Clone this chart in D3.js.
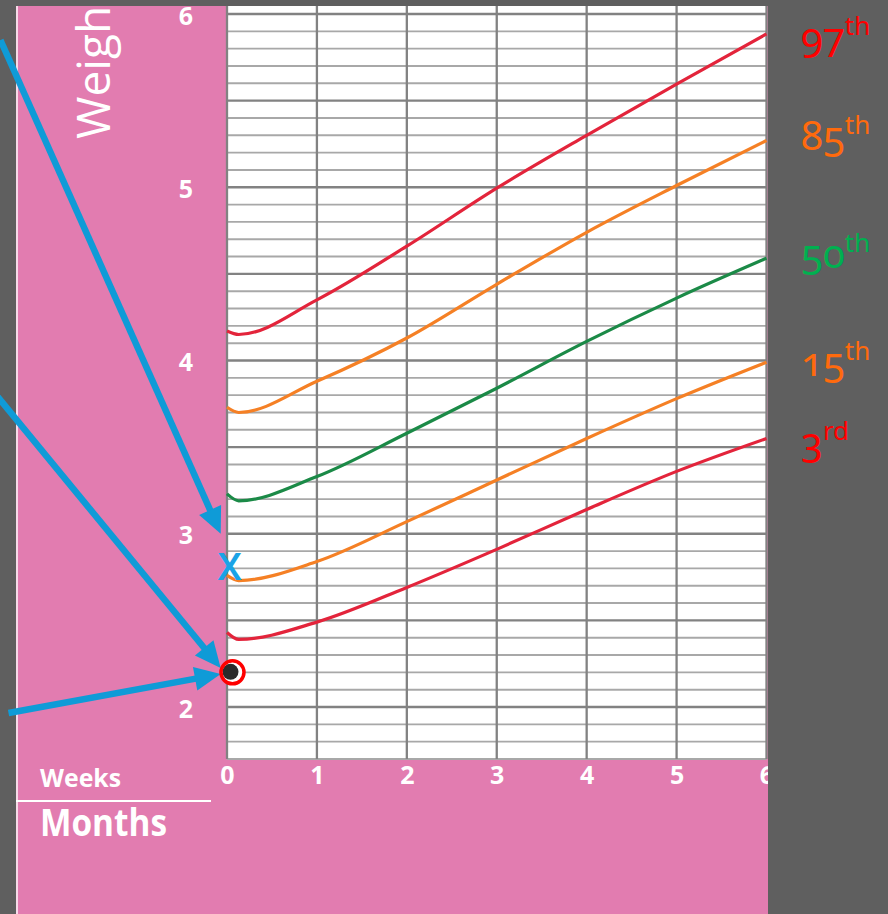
<!DOCTYPE html>
<html>
<head>
<meta charset="utf-8">
<script src="https://cdn.jsdelivr.net/npm/d3@7/dist/d3.min.js"></script>
<style>
  html, body { margin: 0; padding: 0; background: #5f5f5f; }
  svg { display: block; }
</style>
</head>
<body>
<svg id="chart" width="888" height="914"></svg>
<script>
// Infant weight-for-age centiles, first six weeks (kg)
const weeks = [0, 0.13, 1, 2, 3, 4, 5, 6];
const p97 = [4.17, 4.15, 4.35, 4.66, 4.995, 5.30, 5.595, 5.885];
const p85 = [3.73, 3.70, 3.88, 4.13, 4.44, 4.74, 5.01, 5.27];
const p50 = [3.23, 3.19, 3.33, 3.58, 3.84, 4.11, 4.36, 4.59];
const p15 = [2.76, 2.73, 2.84, 3.07, 3.31, 3.55, 3.78, 3.99];
const p3  = [2.43, 2.39, 2.49, 2.69, 2.91, 3.14, 3.36, 3.55];

const weekTicks = [0, 1, 2, 3, 4, 5, 6];
const kgTicks = [2, 3, 4, 5, 6];

const centileNames = ["97", "85", "50", "15", "3"];
const centileSuffix = ["th", "th", "th", "th", "rd"];

// Plotted readings (week, kg)
const crossReading = { week: 0.03, kg: 2.81 };
const dotReading = { week: 0.05, kg: 2.20 };

// Pointer arrows, both ends in (week, kg)
const arrowFrom = [[-2.52, 5.85], [-2.55, 3.79], [-2.43, 1.965]];
const arrowTo   = [[-0.07, 3.0], [-0.07, 2.225], [-0.07, 2.19]];

const svg = d3.select("#chart");
const W = 888, H = 914;

const x = d3.scaleLinear().domain([0, 6]).range([227, 766.5]);
const y = d3.scaleLinear().domain([2, 6]).range([707, 14]);

const panel = { left: 16, top: 6, right: 768, bottom: H };
const kgBottom = 1.7;

svg.append("rect").attr("width", W).attr("height", H).attr("fill", "#5f5f5f");

const defs = svg.append("defs");
defs.append("clipPath").attr("id", "panelClip")
  .append("rect")
  .attr("x", panel.left).attr("y", panel.top)
  .attr("width", panel.right - panel.left).attr("height", panel.bottom - panel.top);

const g = svg.append("g").attr("clip-path", "url(#panelClip)");

// pink card
g.append("rect")
  .attr("x", panel.left).attr("y", panel.top)
  .attr("width", panel.right - panel.left).attr("height", panel.bottom - panel.top)
  .attr("fill", "#e27cb0");
g.append("line")
  .attr("x1", panel.left + 1).attr("x2", panel.left + 1)
  .attr("y1", panel.top).attr("y2", panel.bottom)
  .attr("stroke", "#f7dbe9").attr("stroke-width", 2);

// white plotting area
g.append("rect")
  .attr("x", x(0)).attr("y", panel.top)
  .attr("width", x(6) - x(0)).attr("height", y(kgBottom) - panel.top)
  .attr("fill", "#ffffff");

// horizontal grid every 0.1 kg, darker every 0.5 kg
const hLines = d3.range(17, 61).map(d => d / 10);
g.append("g").selectAll("line").data(hLines).join("line")
  .attr("x1", x(0)).attr("x2", x(6))
  .attr("y1", d => y(d)).attr("y2", d => y(d))
  .attr("stroke", d => (Math.round(d * 10) % 5 === 0) ? "#828282" : "#a8a8a8")
  .attr("stroke-width", d => (Math.round(d * 10) % 5 === 0) ? 2.3 : 1.9);

// vertical grid every week
g.append("g").selectAll("line").data(weekTicks).join("line")
  .attr("x1", d => x(d)).attr("x2", d => x(d))
  .attr("y1", panel.top).attr("y2", y(kgBottom))
  .attr("stroke", "#828282").attr("stroke-width", 2.3);

// centile curves
const series = [
  { values: p97, color: "#e3243b" },
  { values: p85, color: "#f58025" },
  { values: p50, color: "#1b8a47" },
  { values: p15, color: "#f58025" },
  { values: p3,  color: "#e3243b" }
];
const line = d3.line()
  .x((d, i) => x(weeks[i]))
  .y(d => y(d))
  .curve(d3.curveMonotoneX);
g.append("g").selectAll("path").data(series).join("path")
  .attr("d", s => line(s.values))
  .attr("fill", "none")
  .attr("stroke", s => s.color)
  .attr("stroke-width", 3.2)
  .attr("stroke-linejoin", "round");

// axes
const tickFont = "'Open Sans', 'DejaVu Sans', sans-serif";
const yAxis = d3.axisLeft(y).tickValues(kgTicks).tickSize(0).tickPadding(34).tickFormat(d3.format("d"));
const ya = svg.append("g").attr("transform", `translate(${x(0)},1)`).call(yAxis);
ya.select(".domain").remove();
ya.selectAll("text")
  .attr("fill", "#ffffff").attr("font-family", tickFont)
  .attr("font-weight", 700).attr("font-size", 25).attr("dy", "0.36em");

const xAxis = d3.axisBottom(x).tickValues(weekTicks).tickSize(0).tickPadding(7).tickFormat(d3.format("d"));
const xa = g.append("g").attr("transform", `translate(0,${y(kgBottom)})`).call(xAxis);
xa.select(".domain").remove();
xa.selectAll("text")
  .attr("fill", "#ffffff").attr("font-family", tickFont)
  .attr("font-weight", 700).attr("font-size", 25).attr("dy", "0.71em");

// axis titles
g.append("text")
  .attr("transform", "translate(110,139) rotate(-90)")
  .attr("fill", "#ffffff").attr("font-family", tickFont)
  .attr("font-size", 46).attr("font-weight", 400)
  .text("Weight (kg)");

g.append("text")
  .attr("x", 40).attr("y", 787)
  .attr("fill", "#ffffff").attr("font-family", tickFont)
  .attr("font-size", 25).attr("font-weight", 700)
  .attr("textLength", 81).attr("lengthAdjust", "spacingAndGlyphs")
  .text("Weeks");
g.append("line")
  .attr("x1", panel.left).attr("x2", 211)
  .attr("y1", 801).attr("y2", 801)
  .attr("stroke", "#ffffff").attr("stroke-width", 2);
g.append("text")
  .attr("x", 40).attr("y", 836)
  .attr("fill", "#ffffff").attr("font-family", tickFont)
  .attr("font-size", 38).attr("font-weight", 700)
  .attr("textLength", 127).attr("lengthAdjust", "spacingAndGlyphs")
  .text("Months");

// pointer arrows
const blue = "#0f9bd7";
const arrows = svg.append("g");
arrowFrom.forEach((from, i) => {
  const to = arrowTo[i];
  const x1 = x(from[0]), y1 = y(from[1]);
  const x2 = x(to[0]), y2 = y(to[1]);
  const ang = Math.atan2(y2 - y1, x2 - x1);
  const headLen = 26, headHalf = 12;
  const bx = x2 - headLen * Math.cos(ang), by = y2 - headLen * Math.sin(ang);
  arrows.append("line")
    .attr("x1", x1).attr("y1", y1).attr("x2", bx + 2 * Math.cos(ang)).attr("y2", by + 2 * Math.sin(ang))
    .attr("stroke", blue).attr("stroke-width", 6.5);
  const px = -Math.sin(ang), py = Math.cos(ang);
  arrows.append("path")
    .attr("d", `M${x2},${y2}L${bx + px * headHalf},${by + py * headHalf}L${bx - px * headHalf},${by - py * headHalf}Z`)
    .attr("fill", blue);
});

// plotted readings
svg.append("text")
  .attr("x", x(crossReading.week)).attr("y", y(crossReading.kg))
  .attr("dy", "0.36em").attr("text-anchor", "middle")
  .attr("fill", "#1aa3e6").attr("font-family", "'Noto Sans', sans-serif")
  .attr("font-size", 38).attr("font-weight", 600)
  .text("X");

const dx = x(dotReading.week), dy = y(dotReading.kg);
svg.append("circle").attr("cx", dx + 1).attr("cy", dy).attr("r", 10.5).attr("fill", "#ffffff");
svg.append("circle").attr("cx", dx - 1).attr("cy", dy - 0.5).attr("r", 8).attr("fill", "#2b2b2b");
svg.append("circle").attr("cx", dx + 1).attr("cy", dy).attr("r", 11.5)
  .attr("fill", "none").attr("stroke", "#ff0000").attr("stroke-width", 3.5);

// centile names on the right
const labelColors = ["#ff0000", "#ff6a0d", "#00b050", "#ff6a0d", "#ff0000"];
const labelBase = [51, 150, 268, 376, 456];
const labels = svg.append("g")
  .attr("font-family", "'Noto Sans', 'Lato', sans-serif")
  .style("font-variant-numeric", "oldstyle-nums");
centileNames.forEach((name, i) => {
  const t = labels.append("text")
    .attr("x", 801).attr("y", labelBase[i])
    .attr("fill", labelColors[i]).attr("font-size", 40);
  t.append("tspan").text(name);
  t.append("tspan").attr("font-size", 26).attr("dy", -16).text(centileSuffix[i]);
});
</script>
</body>
</html>
